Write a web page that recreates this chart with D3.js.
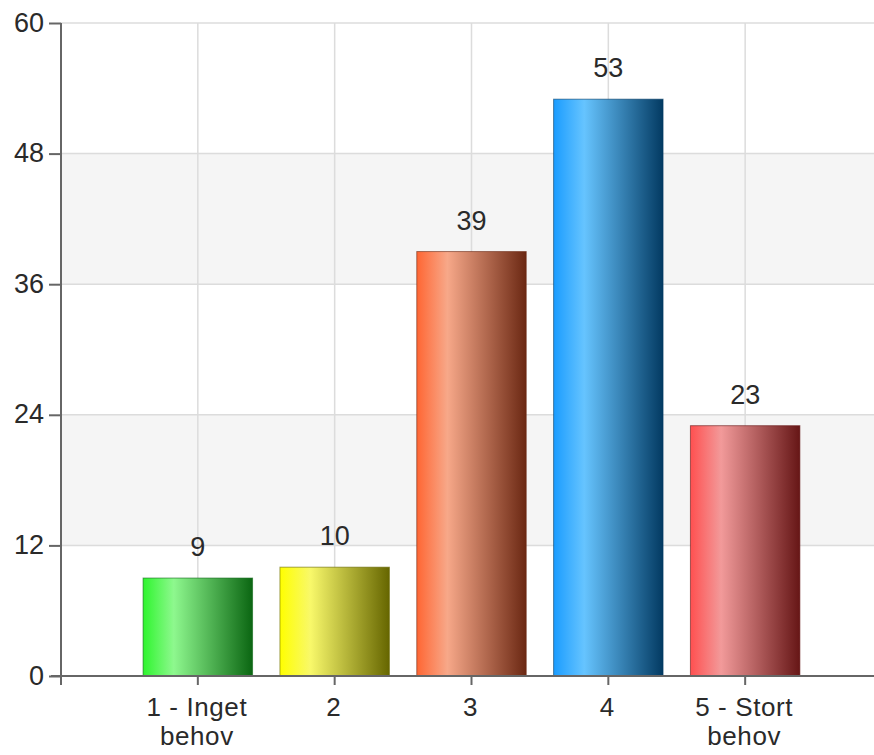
<!DOCTYPE html>
<html>
<head>
<meta charset="utf-8">
<script src="https://cdn.jsdelivr.net/npm/d3@7"></script>
<style>
  body { margin: 0; background: #fff; overflow: hidden; }
  text { font-family: "Liberation Sans", Arial, sans-serif; fill: #2a2a2a; }
</style>
</head>
<body>
<div id="chart"></div>
<script>
const categories = [['1 - Inget', 'behov'], ['2'], ['3'], ['4'], ['5 - Stort', 'behov']]
const values = [9, 10, 39, 53, 23]
const yTicks = [0, 12, 24, 36, 48, 60]
// gradient stops per bar: [left, highlight, right]
const barColors = [
  ['#2ef52e', '#8ef88e', '#0b6612'],
  ['#ffff00', '#f8f86a', '#666600'],
  ['#ff6633', '#f7a889', '#6b2813'],
  ['#1a9cff', '#66c4ff', '#033a62'],
  ['#ff5050', '#f29a9a', '#661616']
]

const W = 874, H = 755
const svg = d3.select('#chart').append('svg')
  .attr('width', W).attr('height', H)
  .style('display', 'block')

const x = d3.scaleLinear().domain([0, 6]).range([61, 882])
const y = d3.scaleLinear().domain([0, 60]).range([676, 23])
const step = x(1) - x(0)
const bw = step * 0.8

const defs = svg.append('defs')
barColors.forEach((c, i) => {
  const g = defs.append('linearGradient').attr('id', 'grad' + i)
    .attr('x1', '0%').attr('x2', '100%').attr('y1', '0%').attr('y2', '0%')
  g.append('stop').attr('offset', '0%').attr('stop-color', c[0])
  g.append('stop').attr('offset', '28%').attr('stop-color', c[1])
  g.append('stop').attr('offset', '100%').attr('stop-color', c[2])
})

// alternating bands
const bands = [[12, 24], [36, 48]]
svg.selectAll('rect.band').data(bands).enter()
  .append('rect').attr('class', 'band')
  .attr('x', x(0)).attr('width', W - x(0))
  .attr('y', d => y(d[1])).attr('height', d => y(d[0]) - y(d[1]))
  .attr('fill', '#f5f5f5')

// grid
svg.append('g').selectAll('line').data(yTicks.slice(1)).enter()
  .append('line')
  .attr('x1', x(0)).attr('x2', W)
  .attr('y1', d => y(d)).attr('y2', d => y(d))
  .attr('stroke', '#dcdcdc').attr('stroke-width', 1.5)

svg.append('g').selectAll('line').data(d3.range(1, 6)).enter()
  .append('line')
  .attr('x1', d => x(d)).attr('x2', d => x(d))
  .attr('y1', y(60)).attr('y2', y(0))
  .attr('stroke', '#dcdcdc').attr('stroke-width', 1.5)

// bars
svg.selectAll('rect.bar').data(values).enter()
  .append('rect').attr('class', 'bar')
  .attr('x', (d, i) => x(i + 1) - bw / 2)
  .attr('width', bw)
  .attr('y', d => y(d))
  .attr('height', d => y(0) - y(d))
  .attr('fill', (d, i) => `url(#grad${i})`)
  .attr('stroke', (d, i) => barColors[i][2])
  .attr('stroke-opacity', 0.6)
  .attr('stroke-width', 1)

// value labels
svg.selectAll('text.val').data(values).enter()
  .append('text').attr('class', 'val')
  .attr('x', (d, i) => x(i + 1))
  .attr('y', d => y(d) - 22)
  .attr('text-anchor', 'middle')
  .attr('font-size', 27)
  .text(d => d)

// y axis
const yAxis = d3.axisLeft(y).tickValues(yTicks).tickSize(12).tickPadding(5)
const ya = svg.append('g').attr('transform', `translate(${x(0)},0)`).call(yAxis)
ya.select('.domain').remove()
ya.selectAll('line').attr('stroke', '#666').attr('stroke-width', 2)
ya.selectAll('text').attr('font-size', 27).attr('fill', '#2a2a2a').attr('dy', '0.3em')
  .style('font-family', '"Liberation Sans", Arial, sans-serif')

svg.append('line')
  .attr('x1', x(0)).attr('x2', x(0))
  .attr('y1', y(60)).attr('y2', y(0) + 9)
  .attr('stroke', '#666').attr('stroke-width', 2)

// x axis
svg.append('line')
  .attr('x1', x(0) - 10).attr('x2', W)
  .attr('y1', y(0)).attr('y2', y(0))
  .attr('stroke', '#666').attr('stroke-width', 2)

const xa = svg.append('g')
xa.selectAll('line').data(d3.range(1, 6)).enter()
  .append('line')
  .attr('x1', d => x(d)).attr('x2', d => x(d))
  .attr('y1', y(0)).attr('y2', y(0) + 9)
  .attr('stroke', '#666').attr('stroke-width', 2)

const labels = xa.selectAll('text').data(categories).enter()
  .append('text')
  .attr('x', (d, i) => x(i + 1) - 1)
  .attr('y', 716)
  .attr('text-anchor', 'middle')
  .attr('font-size', 26)
  .attr('letter-spacing', 0.6)
labels.selectAll('tspan').data(d => d).enter()
  .append('tspan')
  .attr('x', function () { return d3.select(this.parentNode).attr('x') })
  .attr('dy', (d, j) => j === 0 ? 0 : 29)
  .text(d => d)
</script>
</body>
</html>
